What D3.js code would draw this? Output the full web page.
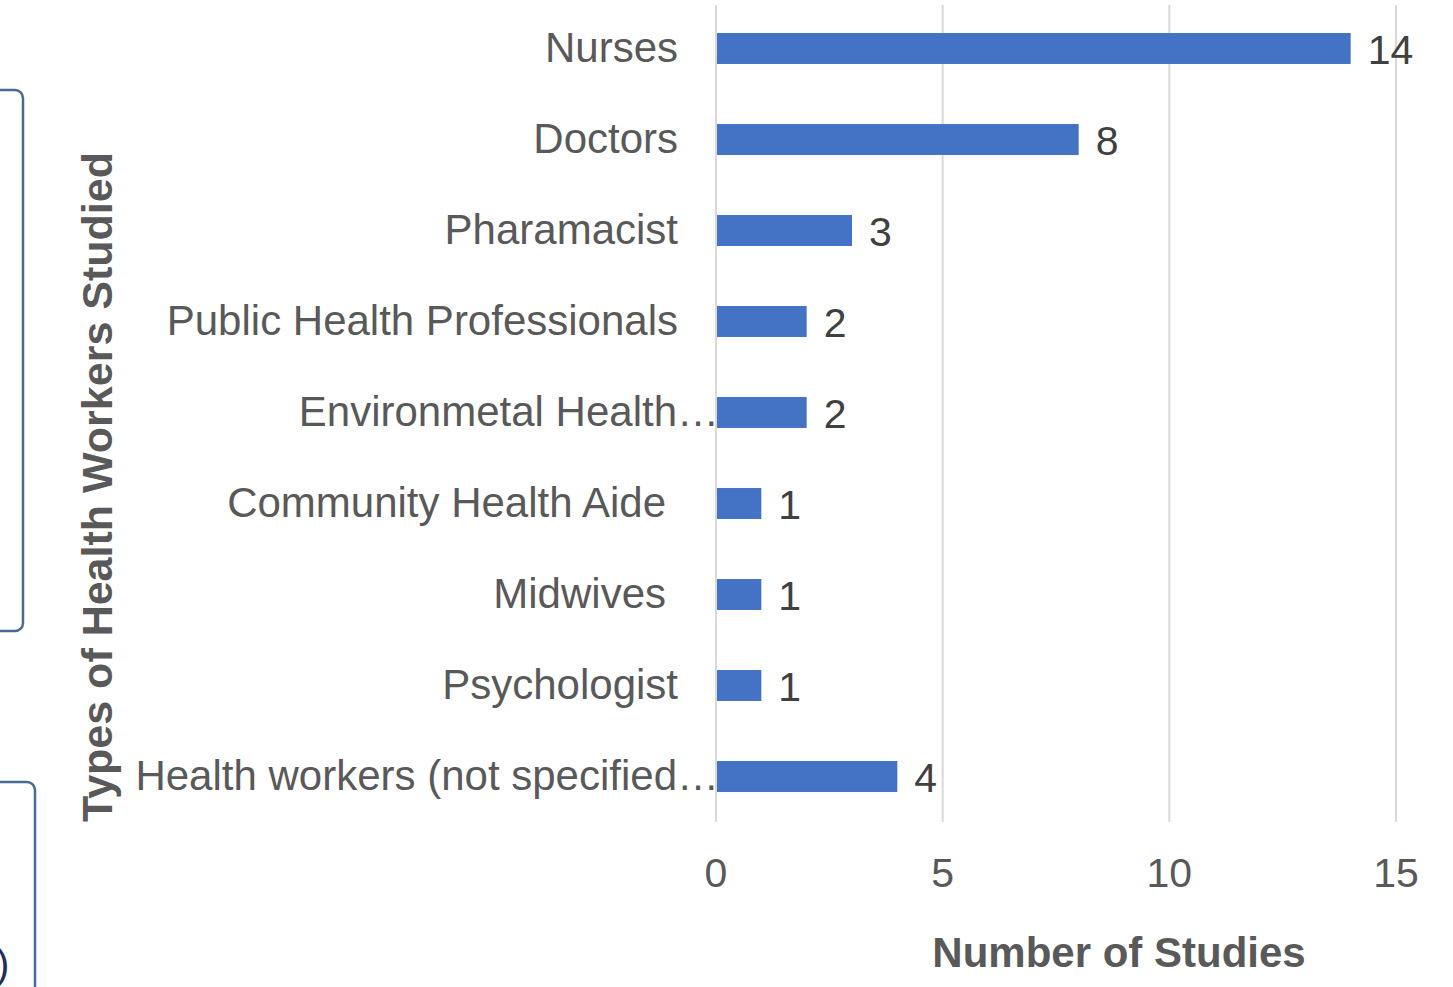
<!DOCTYPE html>
<head>
  <meta charset="utf-8">
  <script src="https://d3js.org/d3.v7.min.js"></script>
  <style>
    body{ margin: 0; background: #ffffff; }
    text{ font-family: "Liberation Sans", Arial, sans-serif; }
    text.catLabel{ font-size: 42px; fill: #595959; }
    text.valueLabel{ font-size: 41px; fill: #404040; }
    text.tickLabel{ font-size: 41px; fill: #595959; }
    text.axisTitle{ font-size: 42px; font-weight: 700; fill: #595959; }
    line.grid{ stroke: #d9d9d9; stroke-width: 2; }
    rect.bar{ fill: #4472c4; }
    rect.sideBox{ fill: none; stroke: #4a6a96; stroke-width: 2.5; }
  </style>
</head>
<body>
  <script>
    // chart data
    const categories = ["Nurses", "Doctors", "Pharamacist", "Public Health Professionals",
      "Environmetal Health…", "Community Health Aide", "Midwives", "Psychologist",
      "Health workers (not specified…"];
    const values = [14, 8, 3, 2, 2, 1, 1, 1, 4];
    const xTicks = [0, 5, 10, 15];
    const xTitle = "Number of Studies";
    const yTitle = "Types of Health Workers Studied";

    var width = 1453;
    var height = 987;

    var svg = d3.select("body").append("svg")
      .attr("width", width)
      .attr("height", height);

    let data = categories.map((c, i) => ({name: c, value: values[i]}));

    let x = d3.scaleLinear()
      .domain([0, 15])
      .range([716, 1396]);

    let y = d3.scaleBand()
      .domain(categories)
      .range([3, 822])
      .paddingInner(0.66)
      .paddingOuter(0.33);

    // pieces of neighbouring slide shapes cut by the frame
    svg.append("rect")
      .attr("class", "sideBox")
      .attr("x", -20).attr("y", 90)
      .attr("width", 43).attr("height", 541)
      .attr("rx", 8);
    svg.append("rect")
      .attr("class", "sideBox")
      .attr("x", -20).attr("y", 782)
      .attr("width", 55).attr("height", 260)
      .attr("rx", 8);
    svg.append("text")
      .attr("x", -4).attr("y", 978)
      .style("font-size", "40px")
      .style("fill", "#1f2d5a")
      .text(")");

    // gridlines
    svg.selectAll("line.grid")
      .data(xTicks)
      .enter()
      .append("line")
      .attr("class", "grid")
      .attr("x1", d => x(d)).attr("x2", d => x(d))
      .attr("y1", 5).attr("y2", 822);

    // tick labels
    svg.selectAll("text.tickLabel")
      .data(xTicks)
      .enter()
      .append("text")
      .attr("class", "tickLabel")
      .attr("x", d => x(d))
      .attr("y", 887)
      .style("text-anchor", "middle")
      .text(d => d);

    // bars
    svg.selectAll("rect.bar")
      .data(data)
      .enter()
      .append("rect")
      .attr("class", "bar")
      .attr("x", x(0) + 1)
      .attr("width", d => x(d.value) - x(0) - 1)
      .attr("y", d => y(d.name))
      .attr("height", y.bandwidth());

    // category labels (truncated ones run into the axis, two sit a bit further left)
    const shifted = ["Community Health Aide", "Midwives"];
    svg.selectAll("text.catLabel")
      .data(data)
      .enter()
      .append("text")
      .attr("class", "catLabel")
      .attr("x", d => d.name.endsWith("…") ? 719 : (shifted.includes(d.name) ? 666 : 678))
      .attr("y", d => y(d.name) + y.bandwidth() / 2 + 13)
      .style("text-anchor", "end")
      .text(d => d.name);

    // value labels
    svg.selectAll("text.valueLabel")
      .data(data)
      .enter()
      .append("text")
      .attr("class", "valueLabel")
      .attr("x", d => x(d.value) + 17)
      .attr("y", d => y(d.name) + y.bandwidth() / 2 + 15)
      .text(d => d.value);

    // axis titles
    svg.append("text")
      .attr("class", "axisTitle")
      .attr("x", 1119)
      .attr("y", 967)
      .style("text-anchor", "middle")
      .text(xTitle);

    svg.append("text")
      .attr("class", "axisTitle")
      .attr("transform", "translate(112, 487) rotate(-90)")
      .style("text-anchor", "middle")
      .style("font-size", "43px")
      .text(yTitle);
  </script>
</body>
